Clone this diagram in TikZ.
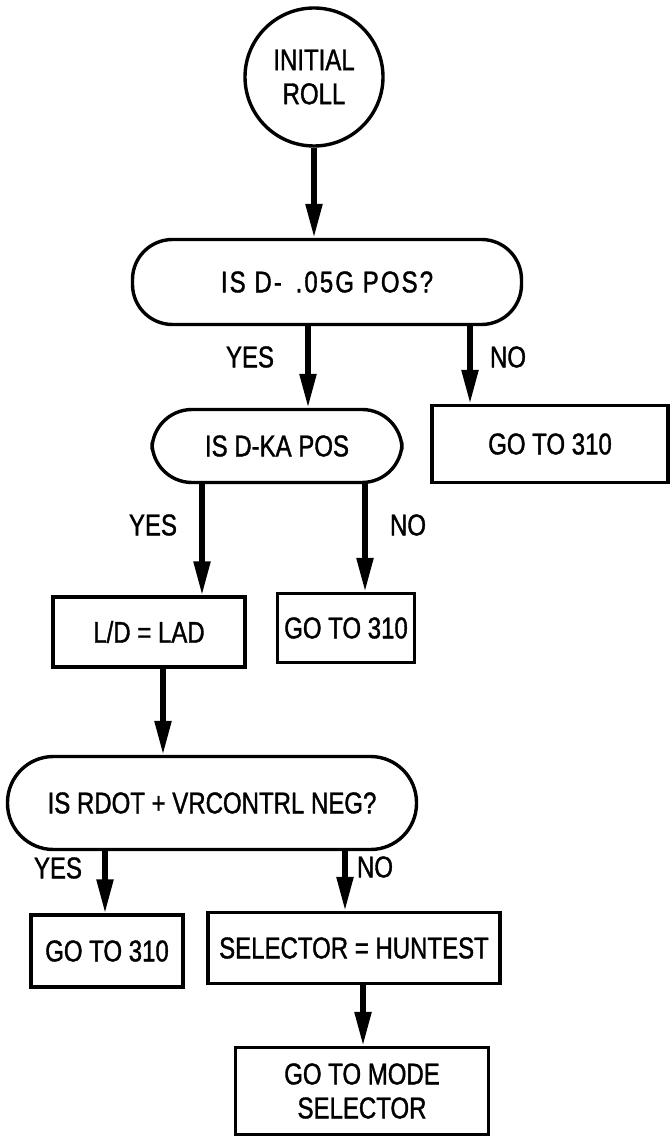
\documentclass[tikz,border=0pt]{standalone}
\usepackage{fontspec}
\setmainfont{Liberation Sans}[FakeStretch=0.8, FakeBold=1.2]
\usetikzlibrary{arrows.meta,positioning,calc}

\begin{document}
\begin{tikzpicture}[x=0.5pt, y=-0.5pt,
 arr/.style={line width=2.7pt, -{Triangle[length=17pt, width=8pt]}},
 term/.style={draw, line width=1.7pt, rounded corners=20pt, font=\fontsize{15}{17}\selectfont},
 box/.style={draw, line width=1.7pt, font=\fontsize{15}{17}\selectfont, align=center},
 lbl/.style={font=\fontsize{15}{17}\selectfont}]
\useasboundingbox (0,0) rectangle (672,1138);
% debut
\node[draw, circle, line width=1.7pt, minimum size=69pt, inner sep=0pt, align=center,
  font=\fontsize{15}{17}\selectfont] (roll) at (314,77) {INITIAL\\ROLL};
% tests et actions
\node[term, minimum width=194.5pt, minimum height=42.5pt] (q1) at (327,282)
  {\addfontfeatures{LetterSpace=7}IS D- \,.05G POS?};
\node[term, minimum width=125pt, minimum height=36.5pt] (q2) at (277,446) {IS D-KA POS};
\node[box, minimum width=118pt, minimum height=38.5pt] (g1) at (550,444) {GO TO 310};
\node[box, minimum width=96pt, minimum height=35pt] (ld) at (149,632) {L/D = LAD};
\node[box, minimum width=66.5pt, minimum height=34.5pt] (g2) at (346,628) {GO TO 310};
\node[term, minimum width=204.5pt, minimum height=46.5pt, rounded corners=23pt] (q3) at (212,803) {IS RDOT + VRCONTRL NEG?};
\node[box, minimum width=76pt, minimum height=36pt] (g3) at (107,951) {GO TO 310};
\node[box, minimum width=146pt, minimum height=35.5pt] (sel) at (354,948) {SELECTOR = HUNTEST};
\node[box, minimum width=126.5pt, minimum height=43.5pt] (mode) at (362,1091) {GO TO MODE\\SELECTOR};
% fleches
\draw[arr] (roll.south) -- (roll.south |- q1.north);
\draw[arr] ([xshift=-9.5pt]q1.south) -- ([xshift=-9.5pt]q1.south |- q2.north);
\draw[arr] ([xshift=71.5pt]q1.south) -- ([xshift=71.5pt]q1.south |- g1.north);
\draw[arr] ([xshift=-37.5pt]q2.south) -- ([xshift=-37.5pt]q2.south |- ld.north);
\draw[arr] ([xshift=44pt]q2.south) -- ([xshift=44pt]q2.south |- g2.north);
\draw[arr] ([xshift=7pt]ld.south) -- ([xshift=7pt]ld.south |- q3.north);
\draw[arr] ([xshift=-53.5pt]q3.south) -- ([xshift=-53.5pt]q3.south |- g3.north);
\draw[arr] ([xshift=66.5pt]q3.south) -- ([xshift=66.5pt]q3.south |- sel.north);
\draw[arr] ([xshift=4.5pt]sel.south) -- ([xshift=4.5pt]sel.south |- mode.north);
% etiquettes
\node[lbl] (yes1) at (250,357) {YES};
\node[lbl] (no1) at (508,357) {NO};
\node[lbl] (yes2) at (153,525) {YES};
\node[lbl] (no2) at (408,525) {NO};
\node[lbl] (yes3) at (58,868) {YES};
\node[lbl] (no3) at (375,867) {NO};
\end{tikzpicture}
\end{document}
